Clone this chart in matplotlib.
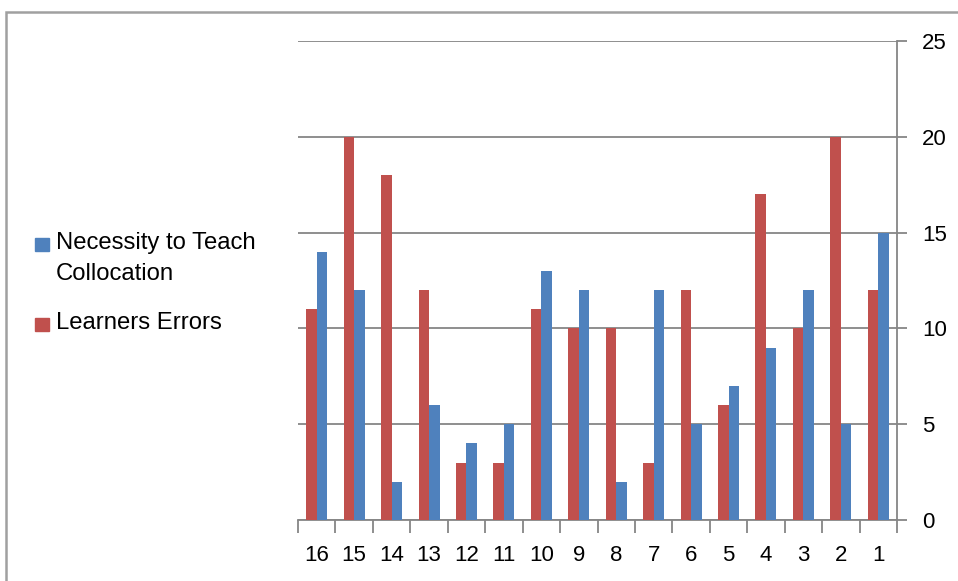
import numpy as np
import matplotlib.pyplot as plt
from matplotlib.patches import Rectangle
from matplotlib.ticker import FixedLocator

plt.rcParams['font.family'] = ['Liberation Sans', 'DejaVu Sans']

# categories as they run along the axis, left to right
items = ['16', '15', '14', '13', '12', '11', '10', '9', '8', '7', '6', '5', '4', '3', '2', '1']
learners_errors = [11, 20, 18, 12, 3, 3, 11, 10, 10, 3, 12, 6, 17, 10, 20, 12]
necessity = [14, 12, 2, 6, 4, 5, 13, 12, 2, 12, 5, 7, 9, 12, 5, 15]
yticks = [0, 5, 10, 15, 20, 25]

blue = '#4F81BD'
red = '#C0504D'
grey = '#868686'

fig = plt.figure(figsize=(9.58, 5.81), dpi=100)
ax = fig.add_axes([298/958, 61/581, 599/958, 479/581])

x = np.arange(len(items))
w = 0.28
ax.bar(x - w/2, learners_errors, w, color=red, zorder=3)
ax.bar(x + w/2, necessity, w, color=blue, zorder=3)

ax.set_xlim(-0.5, len(items) - 0.5)
ax.set_ylim(0, 25)
ax.set_yticks(yticks)
ax.yaxis.tick_right()
ax.grid(axis='y', color=grey, lw=1.3, zorder=0)
ax.set_xticks(x)
ax.set_xticklabels(items, fontsize=16)
ax.xaxis.set_minor_locator(FixedLocator(np.arange(-0.5, len(items), 1)))
ax.tick_params(axis='x', which='major', length=0, pad=18)
ax.tick_params(axis='x', which='minor', length=9, width=1.3, color=grey)
ax.tick_params(axis='y', length=7, width=1.3, color=grey, pad=11, labelsize=16)
for lab in ax.get_yticklabels():
    lab.set_horizontalalignment('left')

for s in ['top', 'left']:
    ax.spines[s].set_visible(False)
for s in ['bottom', 'right']:
    ax.spines[s].set_color(grey)
    ax.spines[s].set_linewidth(1.3)

# legend drawn by hand on the left
def px(xp, yp):
    return xp / 958, 1 - yp / 581

fig.patches.append(Rectangle(px(35, 251), 14/958, 13/581, color=blue, transform=fig.transFigure))
fig.patches.append(Rectangle(px(35, 331), 14/958, 13/581, color=red, transform=fig.transFigure))
fig.text(*px(56, 243), 'Necessity to Teach', fontsize=17.2, va='center')
fig.text(*px(56, 274), 'Collocation', fontsize=17.2, va='center')
fig.text(*px(56, 323), 'Learners Errors', fontsize=17.2, va='center')

# chart frame
fig.patches.append(Rectangle(px(5.5, 700), 1.2, (700 - 11.5)/581, fill=False,
                             ec='#a0a0a0', lw=1.8, transform=fig.transFigure))

fig.savefig('out.png', dpi=100)
